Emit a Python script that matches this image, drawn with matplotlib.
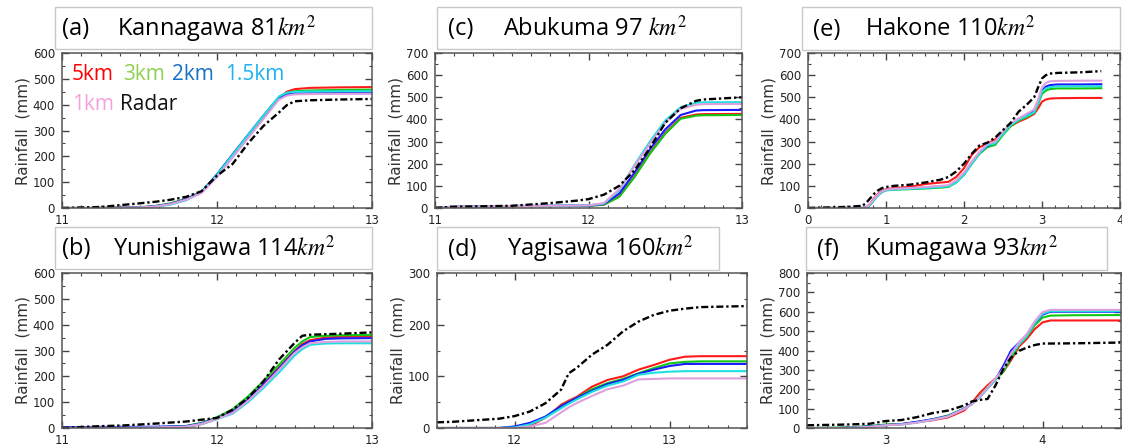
import matplotlib
matplotlib.use("Agg")
import matplotlib.pyplot as plt
from matplotlib.patches import Rectangle
from matplotlib.ticker import MultipleLocator

# ---------------- donnees ----------------
# (a) Kannagawa
a_x     = [11.0, 11.25, 11.5, 11.6, 11.7, 11.8, 11.9, 12.0, 12.1, 12.2, 12.3, 12.4, 12.45, 12.5, 12.6, 12.8, 13.0]
a_5km   = [0, 0, 2, 6, 15, 32, 60, 125, 200, 275, 350, 425, 450, 460, 465, 467, 468]
a_3km   = [0, 0, 3, 8, 18, 36, 63, 130, 205, 280, 355, 430, 445, 452, 455, 457, 458]
a_2km   = [0, 0, 2, 7, 16, 34, 62, 130, 207, 283, 358, 428, 440, 443, 444, 445, 445]
a_15km  = [0, 0, 1, 5, 13, 30, 60, 128, 205, 282, 358, 432, 446, 450, 451, 452, 452]
a_1km   = [0, 0, 2, 6, 15, 32, 58, 120, 195, 270, 345, 420, 435, 440, 441, 442, 442]
a_radar = [0, 4, 18, 24, 32, 43, 65, 125, 170, 250, 318, 370, 398, 413, 417, 420, 422]

# (b) Yunishigawa
b_x     = [11.0, 11.2, 11.4, 11.6, 11.8, 11.9, 12.0, 12.1, 12.2, 12.3, 12.4, 12.5, 12.55, 12.6, 12.7, 12.8, 13.0]
b_5km   = [0, 0, 0, 0, 3, 15, 35, 62, 110, 170, 235, 298, 325, 340, 350, 353, 355]
b_3km   = [0, 1, 2, 3, 8, 20, 42, 72, 122, 182, 245, 310, 335, 352, 357, 359, 360]
b_2km   = [3, 4, 4, 5, 7, 18, 38, 62, 110, 168, 230, 295, 320, 335, 345, 347, 348]
b_15km  = [0, 1, 1, 2, 5, 15, 35, 55, 100, 155, 215, 280, 305, 322, 327, 328, 328]
b_1km   = [0, 1, 1, 2, 5, 16, 36, 58, 105, 162, 225, 290, 312, 328, 333, 335, 335]
b_radar = [0, 6, 10, 17, 25, 32, 39, 71, 116, 181, 265, 329, 357, 361, 363, 365, 370]

# (c) Abukuma
c_x     = [11.0, 11.1, 11.5, 11.75, 11.92, 12.0, 12.1, 12.2, 12.3, 12.4, 12.5, 12.6, 12.7, 12.75, 13.0]
c_5km   = [0, 5, 8, 9, 10, 10, 15, 53, 143, 248, 339, 407, 422, 424, 425]
c_3km   = [0, 4, 8, 9, 10, 10, 15, 50, 140, 245, 335, 403, 417, 419, 420]
c_2km   = [0, 5, 9, 10, 11, 11, 18, 65, 160, 265, 355, 420, 440, 442, 443]
c_15km  = [0, 5, 9, 10, 11, 12, 20, 80, 195, 300, 395, 455, 475, 477, 478]
c_1km   = [0, 5, 9, 10, 11, 12, 22, 85, 190, 290, 385, 448, 466, 469, 470]
c_radar = [0, 5, 10, 22, 33, 40, 60, 100, 170, 271, 385, 450, 484, 490, 500]

# (d) Yagisawa
d_x     = [11.5, 11.6, 11.8, 11.9, 12.0, 12.1, 12.2, 12.25, 12.3, 12.35, 12.4, 12.5, 12.6, 12.7, 12.8, 12.9, 13.0, 13.1, 13.2, 13.5]
d_5km   = [0, 0, 0, 0, 0, 4, 20, 32, 45, 53, 60, 80, 93, 100, 113, 122, 132, 138, 139, 139]
d_3km   = [0, 0, 0, 0, 1, 8, 22, 32, 42, 50, 58, 75, 87, 95, 106, 116, 125, 128, 129, 129]
d_2km   = [0, 0, 0, 0, 3, 10, 22, 32, 42, 50, 58, 72, 85, 93, 105, 113, 120, 124, 124, 124]
d_15km  = [0, 0, 0, 0, 1, 7, 20, 29, 38, 47, 55, 70, 82, 90, 103, 107, 109, 110, 110, 110]
d_1km   = [0, 0, 0, 0, 0, 3, 10, 20, 30, 40, 48, 62, 75, 82, 94, 95, 96, 96, 96, 96]
d_radar = [11, 12, 16, 18, 23, 32, 48, 61, 74, 106, 116, 142, 161, 187, 206, 219, 227, 231, 234, 236]

# (e) Hakone
e_x     = [0, 0.5, 0.7, 0.75, 0.8, 0.85, 0.9, 0.95, 1.0, 1.1, 1.3, 1.5, 1.7, 1.8, 1.9, 2.0, 2.1, 2.2,
           2.3, 2.4, 2.5, 2.6, 2.7, 2.8, 2.9, 2.95, 3.0, 3.05, 3.1, 3.2, 3.5, 3.76]
e_5km   = [0, 0, 0, 3, 20, 45, 65, 78, 85, 90, 95, 108, 115, 118, 140, 180, 240, 275,
           290, 310, 345, 370, 390, 405, 425, 450, 480, 490, 494, 496, 497, 497]
e_3km   = [0, 0, 0, 2, 15, 38, 58, 72, 80, 83, 85, 88, 92, 95, 115, 150, 200, 245,
           275, 285, 330, 370, 395, 410, 430, 470, 515, 530, 537, 540, 540, 541]
e_2km   = [0, 0, 0, 3, 18, 40, 60, 75, 82, 85, 88, 92, 98, 100, 120, 155, 205, 250,
           280, 295, 340, 378, 400, 418, 440, 480, 530, 548, 555, 558, 558, 559]
e_15km  = [0, 0, 0, 2, 16, 38, 58, 73, 80, 83, 86, 90, 95, 98, 115, 150, 200, 248,
           283, 292, 335, 375, 398, 415, 432, 475, 525, 540, 546, 549, 550, 550]
e_1km   = [0, 0, 0, 4, 20, 42, 62, 76, 83, 87, 90, 95, 100, 103, 125, 160, 210, 255,
           290, 300, 345, 382, 405, 425, 445, 490, 545, 565, 572, 574, 575, 575]
e_radar = [0, 5, 10, 25, 45, 65, 80, 90, 95, 100, 105, 115, 128, 140, 165, 200, 245, 283,
           295, 318, 352, 385, 435, 465, 500, 545, 585, 600, 607, 610, 613, 618]

# (f) Kumagawa
f_x     = [2.5, 2.7, 2.8, 2.9, 3.0, 3.1, 3.2, 3.3, 3.4, 3.5, 3.55, 3.6, 3.65, 3.7, 3.75, 3.8, 3.85, 3.9, 3.95, 4.0, 4.05, 4.2, 4.5]
f_5km   = [0, 0, 2, 8, 15, 20, 30, 40, 55, 90, 130, 180, 220, 255, 290, 350, 420, 460, 510, 545, 555, 555, 555]
f_3km   = [0, 2, 5, 10, 18, 20, 30, 45, 65, 100, 125, 165, 210, 250, 290, 360, 430, 470, 530, 570, 580, 582, 583]
f_2km   = [0, 0, 3, 8, 15, 20, 32, 45, 62, 100, 125, 160, 205, 250, 320, 400, 440, 480, 540, 585, 600, 600, 600]
f_15km  = [0, 0, 2, 6, 14, 18, 28, 42, 60, 98, 122, 160, 205, 250, 300, 380, 430, 475, 540, 590, 603, 603, 603]
f_1km   = [0, 0, 2, 6, 14, 18, 28, 42, 60, 98, 122, 162, 208, 255, 305, 385, 440, 485, 550, 598, 610, 610, 610]
f_radar = [14, 17, 19, 22, 36, 41, 56, 77, 90, 116, 137, 145, 150, 219, 304, 364, 398, 415, 428, 436, 436, 437, 441]

legende_textes = ["5km", "3km", "2km", "1.5km", "1km", "Radar"]

# ---------------- style ----------------
couleursCourbes = ["#ff1a1a", "#12c712", "#1a1aff", "#1ee0e0", "#dda0dd"]
couleursLegende = ["#ff0000", "#8fd14f", "#1570c8", "#1ab2f0", "#f7a1dc", "#111111"]

plt.rcParams["font.family"] = "DejaVu Sans"
plt.rcParams["mathtext.fontset"] = "stix"

W, H = 1122, 445
fig = plt.figure(figsize=(W / 100, H / 100), dpi=100)


def px(x0, y0, x1, y1):
    # rectangle en pixels -> coordonnees figure [gauche, bas, largeur, hauteur]
    return [x0 / W, 1 - y1 / H, (x1 - x0) / W, (y1 - y0) / H]


def cadreTitre(box, lettre, xLettre, nom, xNom):
    x0, y0, x1, y1 = box
    fig.patches.append(Rectangle((x0 / W, 1 - y1 / H), (x1 - x0) / W, (y1 - y0) / H,
                                 transform=fig.transFigure, facecolor="white",
                                 edgecolor="#c8c8c8", linewidth=1.0, zorder=0))
    yc = 1 - ((y0 + y1) / 2 + 1) / H
    fig.text(xLettre / W, yc, lettre, fontsize=17, family="Open Sans", va="center", ha="left")
    fig.text(xNom / W, yc, nom, fontsize=17, family="Open Sans", va="center", ha="left")


def panneau(rect, x, series, radar, xlim, ylim, xmaj, xmin):
    ax = fig.add_axes(rect)
    for y, c in zip(series, couleursCourbes):
        ax.plot(x, y, color=c, linewidth=1.5)
    ax.plot(x, radar, color="black", linewidth=1.7, linestyle=(0, (3, 1.2, 1, 1.2)))
    ax.set_xlim(xlim)
    ax.set_ylim(ylim)
    ax.xaxis.set_major_locator(MultipleLocator(xmaj))
    ax.xaxis.set_minor_locator(MultipleLocator(xmin))
    ax.yaxis.set_major_locator(MultipleLocator(100))
    ax.yaxis.set_minor_locator(MultipleLocator(50))
    ax.tick_params(which="both", direction="in", top=True, right=True, colors="#444444",
                   labelcolor="#222222", labelsize=8.5)
    ax.tick_params(which="major", length=5, width=1)
    ax.tick_params(which="minor", length=2.5, width=0.8)
    ax.tick_params(axis="x", pad=4)
    ax.tick_params(axis="y", pad=5)
    for s in ax.spines.values():
        s.set_color("#555555")
        s.set_linewidth(1.1)
    ax.set_ylabel("Rainfall  (mm)", fontsize=11, color="#333333", labelpad=2)
    ax.xaxis.set_major_formatter(plt.FuncFormatter(lambda v, p: "%d" % round(v)))
    return ax


axA = panneau(px(62, 53, 372, 208), a_x, [a_5km, a_3km, a_2km, a_15km, a_1km], a_radar,
              (11, 13), (0, 600), 1, 0.125)
axC = panneau(px(435, 53, 742, 208), c_x, [c_5km, c_3km, c_2km, c_15km, c_1km], c_radar,
              (11, 13), (0, 700), 1, 0.125)
axE = panneau(px(808, 53, 1120, 208), e_x, [e_5km, e_3km, e_2km, e_15km, e_1km], e_radar,
              (0, 4), (0, 700), 1, 1 / 6)
axB = panneau(px(62, 273, 372, 428), b_x, [b_5km, b_3km, b_2km, b_15km, b_1km], b_radar,
              (11, 13), (0, 600), 1, 0.125)
axD = panneau(px(437, 273, 747, 428), d_x, [d_5km, d_3km, d_2km, d_15km, d_1km], d_radar,
              (11.5, 13.5), (0, 300), 1, 0.125)
axF = panneau(px(807, 273, 1121, 428), f_x, [f_5km, f_3km, f_2km, f_15km, f_1km], f_radar,
              (2.5, 4.5), (0, 800), 1, 0.125)

# cadres de titre
cadreTitre((55, 7, 372, 49), "(a)", 62, "Kannagawa 81$km^2$", 117)
cadreTitre((437, 7, 741, 49), "(c)", 448, "Abukuma 97 $km^2$", 503)
cadreTitre((802, 7, 1120, 50), "(e)", 813, "Hakone 110$km^2$", 865)
cadreTitre((55, 227, 372, 269), "(b)", 62, "Yunishigawa 114$km^2$", 113)
cadreTitre((437, 227, 719, 270), "(d)", 448, "Yagisawa 160$km^2$", 507)
cadreTitre((806, 227, 1107, 270), "(f)", 817, "Kumagawa 93$km^2$", 865)

# legende en texte colore dans (a)
posLegende = [(72, 75), (123, 75), (172, 75), (225, 75), (72, 105), (120, 105)]
for t, c, (lx, ly) in zip(legende_textes, couleursLegende, posLegende):
    fig.text(lx / W, 1 - ly / H, t, color=c, fontsize=15, family="Open Sans",
             va="center", ha="left")

fig.savefig("out.png", dpi=100)
